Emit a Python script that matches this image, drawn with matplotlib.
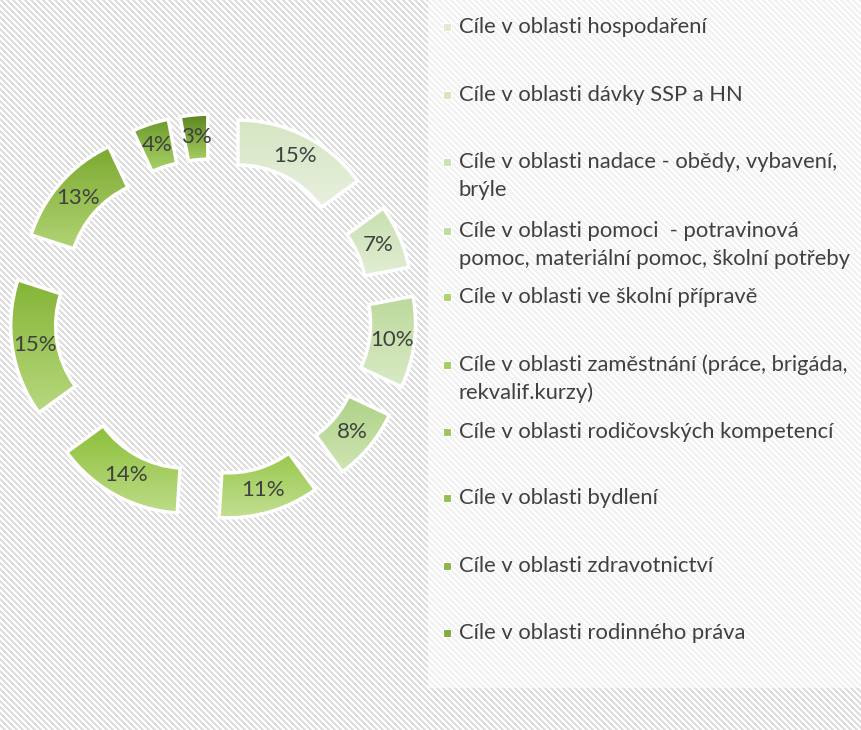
import numpy as np
import matplotlib.pyplot as plt
from matplotlib.colors import LinearSegmentedColormap, ListedColormap, to_rgb
from matplotlib.patches import Rectangle

categories = [
    'Cíle v oblasti hospodaření',
    'Cíle v oblasti dávky SSP a HN',
    'Cíle v oblasti nadace - obědy, vybavení,\nbrýle',
    'Cíle v oblasti pomoci  - potravinová\npomoc, materiální pomoc, školní potřeby',
    'Cíle v oblasti ve školní přípravě',
    'Cíle v oblasti zaměstnání (práce, brigáda,\nrekvalif.kurzy)',
    'Cíle v oblasti rodičovských kompetencí',
    'Cíle v oblasti bydlení',
    'Cíle v oblasti zdravotnictví',
    'Cíle v oblasti rodinného práva',
]
shares = [15, 7, 10, 8, 11, 14, 15, 13, 4, 3]

top_colors = ['#d5e5c2', '#c8dfae', '#bcd99c', '#add287', '#98c84c',
              '#8cbf38', '#84b535', '#7ba92e', '#6b9a28', '#5a8420']
bottom_colors = ['#e8f0de', '#e2eed4', '#d9eac6', '#cfe5b3', '#c3df92',
                 '#bddc88', '#b8d880', '#b1d475', '#a9d068', '#a7cf60']

W, H = 861, 730
plt.rcParams['font.family'] = ['Lato', 'DejaVu Sans']
text_color = '#404040'

fig = plt.figure(figsize=(W / 100, H / 100), dpi=100)
ax = fig.add_axes([0, 0, 1, 1])

# diagonal striped background
yy, xx = np.mgrid[0:H, 0:W]
stripes = ((xx - yy) % 6) < 3
ax.imshow(stripes, cmap=ListedColormap(['white', '#dedede']), extent=(0, W, 0, H),
          origin='upper', interpolation='nearest', zorder=0)

# lighter panel behind the legend
ax.add_patch(Rectangle((428, H - 688), W - 428, 688, facecolor='white', alpha=0.6, lw=0, zorder=1))

# exploded donut
R, r, d = 148, 103, 55
wedges, _, pct_texts = ax.pie(
    shares, radius=R, center=(213, H - 317), startangle=90, counterclock=False,
    explode=[d] * len(shares), autopct='%.0f%%', pctdistance=(R + r) / 2 / R,
    wedgeprops=dict(width=R - r, edgecolor='white', linewidth=2.5),
    textprops=dict(color=text_color, fontsize=16))

grad = np.linspace(0, 1, 256).reshape(-1, 1)
for w, c_top, c_bot in zip(wedges, top_colors, bottom_colors):
    bb = w.get_path().get_extents()
    cmap = LinearSegmentedColormap.from_list('g', [c_top, c_bot])
    im = ax.imshow(grad, cmap=cmap, extent=(bb.x0, bb.x1, bb.y0, bb.y1),
                   origin='upper', aspect='auto', zorder=2)
    im.set_clip_path(w)
    w.set_facecolor('none')
    w.set_zorder(3)
for t in pct_texts:
    t.set_zorder(4)

# legend drawn by hand to keep the uneven spacing of the original
legend_y = [27, 95, 162, 231, 297, 365, 432, 498, 566, 633]
line_step = 28
for label, y0, c_top, c_bot in zip(categories, legend_y, top_colors, bottom_colors):
    mid = (np.array(to_rgb(c_top)) + np.array(to_rgb(c_bot))) / 2
    ax.plot(447, H - y0, marker='s', markersize=6, color=mid, markeredgecolor='white',
            markeredgewidth=0.8, zorder=4)
    for i, line in enumerate(label.split('\n')):
        ax.text(459, H - y0 - i * line_step, line, fontsize=15.8, color=text_color,
                va='center', ha='left', zorder=4)

ax.set_xlim(0, W)
ax.set_ylim(0, H)
ax.axis('off')
fig.savefig('out.png', dpi=100)
